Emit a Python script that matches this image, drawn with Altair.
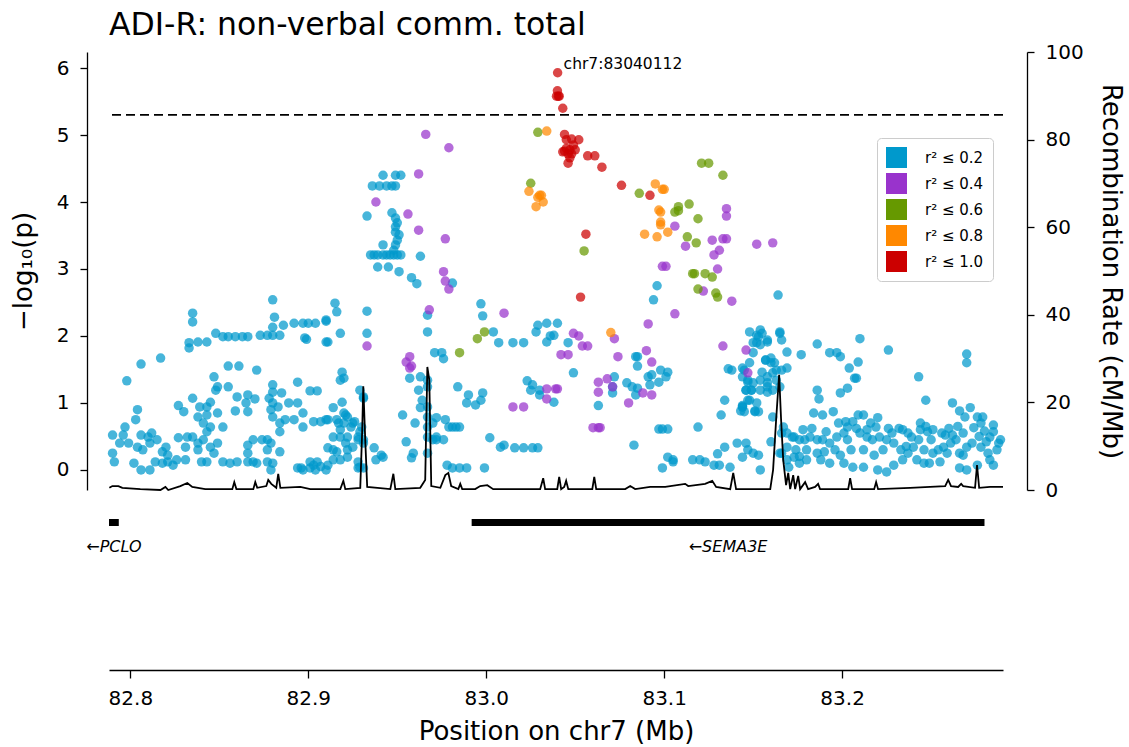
import altair as alt
import pandas as pd

TITLE = "ADI-R: non-verbal comm. total"
LD_BINS = ["r² ≤ 0.2", "r² ≤ 0.4", "r² ≤ 0.6", "r² ≤ 0.8", "r² ≤ 1.0"]
LD_COLORS = ["#0099CC", "#9933CC", "#669900", "#FF8800", "#CC0000"]

# (position Mb, -log10 p) per LD bin
BLUE = [
    (82.942,4.40),(82.949,4.40),(82.952,4.40),(82.936,4.24),(82.940,4.24),(82.944,4.24),(82.947,4.24),(82.949,4.24),
    (82.933,3.79),(82.947,3.84),(82.949,3.76),(82.950,3.69),(82.949,3.63),(82.949,3.55),(82.951,3.51),(82.950,3.43),
    (82.949,3.36),(82.948,3.28),(82.935,3.21),(82.937,3.21),(82.939,3.21),(82.942,3.21),(82.944,3.21),(82.946,3.21),
    (82.948,3.21),(82.950,3.21),(82.952,3.21),(82.942,3.36),(82.963,3.19),(82.939,3.03),(82.945,3.03),(82.951,2.96),
    (82.958,2.87),(82.961,2.78),(82.981,2.79),(82.997,2.48),(82.998,2.30),
    (82.915,2.49),(82.916,2.36),(82.910,2.24),(82.918,2.04),(82.911,1.91),(82.933,2.37),(82.933,2.04),
    (82.967,2.31),(82.967,2.06),(83.004,2.06),(83.007,1.90),(83.015,1.90),(83.021,1.90),
    (82.971,1.75),(82.975,1.75),(82.976,1.66),(83.029,2.16),(83.034,2.19),(83.028,2.06),(83.034,1.91),
    (83.023,1.33),(83.026,1.27),(83.025,1.19),(83.030,1.12),(82.998,1.15),(82.997,1.04),(82.994,0.97),
    (82.984,1.24),(82.990,1.12),(82.989,1.00),(82.981,0.64),(82.985,0.64),(82.979,0.64),(82.983,0.64),
    (83.002,0.48),(83.008,0.34),(83.010,0.37),(83.016,0.33),(83.021,0.33),(83.026,0.33),(83.029,0.33),
    (82.978,0.07),(82.981,0.03),(82.985,0.03),(82.989,0.03),(82.999,0.03),
    (82.953,0.82),(82.960,0.70),(82.963,0.93),(82.955,0.42),(82.959,0.25),(82.958,0.18),(82.967,0.25),
    (82.957,1.37),(82.963,1.39),(82.967,1.34),(82.967,1.24),(82.962,1.19),(82.964,1.04),(82.967,0.94),
    (82.967,0.79),(82.970,0.70),(82.967,0.64),(82.967,0.49),(82.970,0.45),(82.972,0.45),
    (82.972,0.78),(82.977,0.75),(82.972,0.49),(82.976,0.45),
    (82.880,2.54),(82.835,2.34),(82.835,2.21),(82.881,2.28),(82.886,2.16),(82.880,2.13),
    (82.892,2.19),(82.897,2.19),(82.900,2.19),(82.904,2.19),(82.910,2.22),
    (82.833,1.90),(82.833,1.82),(82.838,1.91),(82.843,1.91),(82.848,2.04),(82.852,1.99),(82.855,1.99),
    (82.859,1.99),(82.863,1.99),(82.866,1.99),(82.873,2.01),(82.877,2.01),(82.880,2.01),(82.884,2.01),
    (82.898,1.97),(82.899,1.95),(82.910,1.91),(82.806,1.58),(82.817,1.67),(82.798,1.33),
    (82.855,1.55),(82.861,1.55),(82.871,1.49),(82.847,1.39),(82.849,1.24),(82.855,1.24),(82.848,1.19),
    (82.860,1.09),(82.866,1.12),(82.870,1.06),(82.865,1.00),(82.866,0.87),(82.859,0.88),
    (82.894,1.31),(82.901,1.18),(82.905,1.18),(82.880,1.27),(82.880,1.16),(82.885,1.15),(82.878,1.07),
    (82.880,1.00),(82.883,0.94),(82.879,0.90),(82.880,0.79),(82.889,1.00),(82.894,1.00),(82.897,0.85),
    (82.887,0.75),(82.892,0.75),(82.903,0.72),(82.907,0.72),(82.897,0.64),(82.884,0.57),(82.884,0.70),
    (82.827,0.96),(82.830,0.87),(82.835,1.07),(82.839,0.94),(82.843,0.94),(82.845,1.01),
    (82.838,0.79),(82.843,0.82),(82.841,0.70),(82.845,0.64),(82.843,0.57),(82.849,0.85),(82.852,0.64),
    (82.804,0.90),(82.803,0.75),(82.797,0.64),(82.796,0.52),(82.790,0.52),(82.794,0.40),(82.790,0.25),
    (82.791,0.12),(82.799,0.40),(82.806,0.52),(82.810,0.49),(82.812,0.55),(82.811,0.40),(82.815,0.45),
    (82.804,0.34),(82.807,0.30),(82.802,0.10),(82.806,0.00),(82.811,0.00),(82.814,0.12),(82.818,0.10),
    (82.821,0.12),(82.820,0.34),(82.818,0.27),(82.821,0.22),(82.824,0.07),(82.826,0.15),(82.831,0.15),
    (82.831,0.34),(82.832,0.49),(82.827,0.48),(82.835,0.49),(82.838,0.40),(82.841,0.45),(82.838,0.30),
    (82.845,0.34),(82.849,0.40),(82.847,0.25),(82.840,0.12),(82.843,0.12),(82.852,0.12),(82.856,0.10),
    (82.860,0.12),(82.866,0.12),(82.869,0.12),(82.871,0.10),(82.866,0.25),(82.866,0.37),(82.869,0.45),
    (82.874,0.45),(82.877,0.45),(82.879,0.40),(82.877,0.30),(82.884,0.27),(82.880,0.10),(82.896,0.03),
    (82.901,0.03),(82.905,0.12),(82.907,0.05),(82.910,0.00),
    (82.919,1.46),(82.920,1.37),(82.918,1.34),(82.919,1.01),(82.914,0.93),(82.920,0.85),(82.922,0.79),
    (82.911,0.75),(82.916,0.75),(82.920,0.70),(82.924,0.64),(82.926,0.72),(82.930,0.64),(82.931,1.09),
    (82.929,0.57),(82.928,0.49),(82.931,0.45),(82.922,0.49),(82.918,0.49),(82.914,0.49),(82.921,0.40),
    (82.925,0.34),(82.911,0.33),(82.916,0.27),(82.914,0.15),(82.922,0.19),(82.928,0.12),(82.931,0.03),
    (82.928,0.03),(82.937,0.33),(82.942,0.19),(82.938,0.15),(82.901,0.12),(82.903,0.07),(82.911,0.07),
    (82.904,0.00),(82.894,0.03),(82.897,0.00),(82.877,0.12),(82.879,0.00),
    (82.929,1.19),(82.931,1.07),(82.921,0.82),(82.917,0.70),(82.925,0.70),(82.910,0.75),(82.918,0.60),
    (82.928,0.45),(82.931,0.40),(82.922,0.30),(82.914,0.30),(82.918,0.15),(82.929,0.04),(82.941,0.22),
    (83.096,2.75),(83.094,2.54),(83.040,2.19),(83.038,2.01),(83.046,1.90),(83.049,1.45),(83.038,1.01),
    (83.030,1.19),(83.036,2.00),(83.063,0.96),(83.072,1.39),(83.071,1.24),(83.071,1.15),
    (83.085,1.69),(83.085,1.55),(83.084,1.69),(83.079,1.30),(83.082,1.24),(83.085,1.22),(83.084,1.12),
    (83.091,1.39),(83.093,1.42),(83.098,1.49),(83.102,1.46),(83.101,1.39),(83.097,1.31),(83.092,1.27),
    (83.097,0.61),(83.099,0.61),(83.102,0.61),(83.083,0.37),(83.119,0.64),
    (83.102,0.19),(83.105,0.12),(83.099,0.03),(83.105,0.15),(83.116,0.15),(83.120,0.15),(83.123,0.12),
    (83.128,0.07),(83.131,0.07),(83.130,0.24),(83.137,0.04),(83.134,0.34),(83.141,0.40),(83.146,0.40),
    (83.147,0.30),(83.150,0.25),(83.153,0.22),(83.144,0.19),(83.154,0.00),
    (83.132,0.82),(83.134,1.04),(83.143,0.88),(83.144,0.96),(83.151,0.88),(83.136,1.51),
    (83.148,2.06),(83.152,2.01),(83.154,2.09),(83.150,1.90),(83.154,1.87),(83.158,1.91),(83.157,1.64),
    (83.160,1.60),(83.155,1.46),(83.158,1.39),(83.147,1.34),(83.150,1.30),(83.146,1.19),(83.149,1.19),
    (83.154,1.19),(83.158,1.24),(83.144,1.52),(83.144,1.39),(83.144,0.94),(83.151,0.87),(83.147,1.04),
    (83.138,1.49),(83.145,1.49),(83.153,1.99),(83.155,2.04),(83.152,1.90),(83.150,1.75),(83.158,1.94),
    (83.165,2.04),(83.166,1.94),(83.165,2.06),(83.148,1.60),(83.157,1.64),(83.160,1.67),(83.162,1.60),
    (83.163,1.49),(83.161,1.45),(83.154,1.34),(83.158,1.30),(83.163,1.34),(83.166,1.49),(83.169,1.52),
    (83.165,1.24),(83.158,1.16),(83.161,1.19),(83.147,1.31),(83.149,1.19),(83.146,1.19),(83.148,1.04),
    (83.152,1.00),(83.145,0.87),(83.144,0.94),(83.153,0.87),
    (83.161,0.79),(83.167,0.64),(83.166,0.55),(83.169,0.34),(83.166,0.25),(83.169,0.15),(83.170,0.04),
    (83.172,0.49),(83.174,0.30),(83.176,0.10),(83.179,0.45),
    (83.164,2.61),(83.186,1.88),(83.177,1.72),(83.169,1.76),
    (83.210,1.96),(83.226,1.79),(83.193,1.75),(83.197,1.75),(83.199,1.69),(83.209,1.61),(83.204,1.52),
    (83.207,1.37),(83.208,1.37),(83.203,1.22),(83.199,1.15),(83.186,1.19),(83.187,1.06),
    (83.243,1.39),(83.247,1.04),(83.270,1.73),(83.270,1.60),(83.262,1.00),(83.266,0.88),(83.272,0.93),
    (83.269,0.79),(83.276,0.79),(83.279,0.79),(83.184,0.85),(83.189,0.82),(83.195,0.87),
    (83.198,0.70),(83.202,0.72),(83.206,0.72),(83.209,0.82),(83.212,0.82),(83.216,0.70),(83.220,0.78),
    (83.219,0.64),(83.234,0.60),(83.237,0.55),(83.244,0.70),(83.244,0.60),(83.248,0.57),(83.251,0.60),
    (83.256,0.55),(83.262,0.52),(83.268,0.55),(83.274,0.63),(83.278,0.70),(83.285,0.67),(83.285,0.57),
    (83.283,0.49),(83.288,0.40),
    (83.169,0.55),(83.173,0.49),(83.176,0.45),(83.182,0.49),(83.186,0.45),(83.189,0.45),(83.193,0.40),
    (83.197,0.49),(83.201,0.55),(83.203,0.64),(83.210,0.55),(83.214,0.49),(83.217,0.45),(83.221,0.49),
    (83.225,0.45),(83.229,0.40),(83.233,0.30),(83.237,0.25),(83.240,0.34),(83.246,0.30),(83.251,0.25),
    (83.257,0.34),(83.261,0.40),(83.266,0.25),(83.270,0.34),(83.278,0.34),(83.282,0.25),
    (83.160,0.42),(83.165,0.25),(83.173,0.19),(83.180,0.15),(83.188,0.15),(83.193,0.10),(83.201,0.10),
    (83.206,0.04),(83.212,0.04),(83.220,0.00),(83.225,-0.03),(83.229,0.07),(83.234,0.15),(83.242,0.15),
    (83.246,0.10),(83.249,0.10),(83.255,0.12),(83.259,0.25),(83.266,0.03),(83.270,0.00),(83.276,0.07),
    (83.283,0.15),(83.285,0.07),
    (83.178,0.60),(83.183,0.62),(83.191,0.57),(83.196,0.30),(83.205,0.30),(83.212,0.30),(83.218,0.22),
    (83.223,0.30),(83.228,0.55),(83.232,0.62),(83.239,0.49),(83.243,0.45),(83.250,0.45),(83.254,0.30),
    (83.258,0.52),(83.264,0.45),(83.268,0.22),(83.273,0.40),(83.277,0.50),(83.281,0.42),(83.287,0.30),
    (83.180,0.30),(83.186,0.25),(83.190,0.27),(83.176,0.20),(83.199,0.22),(83.203,0.45),(83.208,0.62),
    (83.214,0.60),(83.226,0.62),(83.236,0.35),(83.247,0.65),(83.260,0.62),(83.265,0.65),(83.280,0.58),
    (83.289,0.45),
]
PURPLE = [
    (82.966,5.01),(82.979,4.81),(82.962,4.42),(82.938,4.00),(82.956,3.82),(82.962,3.58),(82.977,3.45),
    (82.976,2.96),(82.977,2.82),(82.979,2.70),(82.968,2.39),(83.010,2.34),(82.933,1.85),(82.957,1.69),
    (82.955,1.61),(82.958,1.55),(82.957,1.52),(83.034,1.21),(83.034,1.06),(83.015,0.94),(83.021,0.94),
    (83.049,2.04),(83.052,2.00),(83.054,1.85),(83.057,1.85),(83.042,1.72),(83.046,1.72),(83.072,1.96),
    (83.074,1.69),(83.091,2.18),(83.106,2.33),(83.090,1.78),(83.093,1.61),(83.122,2.67),(83.138,2.52),
    (83.133,1.85),(83.146,1.79),(83.147,1.45),(83.039,1.21),(83.040,1.21),(83.063,1.31),(83.068,1.36),
    (83.071,1.24),(83.063,1.16),(83.080,1.00),(83.088,1.15),(83.093,1.12),(83.060,0.63),(83.063,0.63),
    (83.064,0.63),(83.135,3.90),(83.135,3.79),(83.106,3.64),(83.127,3.43),(83.133,3.45),(83.135,3.45),
    (83.112,3.34),(83.128,3.21),(83.131,3.28),(83.152,3.37),(83.161,3.39),(83.099,3.04),(83.101,3.04),
    (83.130,3.00),
]
GREEN = [
    (83.029,5.04),(83.025,4.28),(83.086,4.13),(83.121,4.58),(83.125,4.58),(83.133,4.40),(83.106,3.85),
    (83.108,3.87),(83.108,3.93),(83.114,3.97),(83.119,3.75),(83.055,3.27),(83.113,3.48),(83.118,3.39),
    (83.116,2.93),(83.117,2.93),(83.123,2.93),(83.127,2.88),(83.119,2.70),(83.129,2.64),(83.130,2.58),
    (82.995,1.96),(82.999,2.06),(82.985,1.75),
]
ORANGE = [
    (83.034,5.06),(83.024,4.16),(83.029,4.07),(83.031,4.10),(83.028,3.93),(83.032,4.00),(83.030,4.10),
    (83.095,4.27),(83.099,4.19),(83.100,4.19),(83.097,3.88),(83.098,3.85),(83.098,3.70),(83.098,3.66),
    (83.102,3.55),(83.089,3.52),(83.096,3.48),(83.070,2.05),
]
RED = [
    (83.040,5.66),(83.0395,5.58),(83.0405,5.58),(83.041,5.58),(83.043,5.40),(83.044,5.01),(83.045,4.93),
    (83.048,4.94),(83.052,4.93),(83.043,4.75),(83.047,4.78),(83.050,4.78),(83.044,4.76),(83.046,4.72),
    (83.047,4.66),(83.046,4.58),(83.045,4.80),(83.048,4.72),(83.049,4.85),(83.057,4.69),(83.061,4.69),
    (83.065,4.52),(83.076,4.25),(83.092,4.10),(83.056,3.52),(83.053,2.58),(83.040112,5.93),
]
LEAD_LABEL = "chr7:83040112"
LEAD_POS = 83.040112
LEAD_LOGP = 5.93
SIG_LOGP = 5.30

RECOMB_POS = [
    82.7882,82.7899,82.7933,82.7955,82.8056,82.8169,82.8197,82.8213,82.8281,82.8320,82.8348,82.8421,
    82.8573,82.8584,82.8596,82.8691,82.8702,82.8713,82.8764,82.8775,82.8792,82.8820,82.8831,82.8843,
    82.8955,82.9011,82.9180,82.9197,82.9208,82.9292,82.9303,82.9309,82.9320,82.9331,82.9461,82.9478,
    82.9489,82.9629,82.9657,82.9669,82.9680,82.9691,82.9742,82.9770,82.9787,82.9803,82.9843,82.9854,
    82.9865,82.9938,82.9966,83.0006,83.0039,83.0303,83.0320,83.0331,83.0399,83.0410,83.0421,83.0438,
    83.0449,83.0461,83.0596,83.0607,83.0618,83.0781,83.0809,83.0837,83.0921,83.1006,83.1118,83.1135,
    83.1230,83.1270,83.1292,83.1371,83.1388,83.1404,83.1596,83.1612,83.1629,83.1646,83.1657,83.1669,
    83.1685,83.1697,83.1708,83.1725,83.1736,83.1753,83.1764,83.1792,83.1809,83.1848,83.1865,83.1876,
    83.2034,83.2045,83.2056,83.2180,83.2191,83.2202,83.2382,83.2494,83.2579,83.2596,83.2612,83.2652,
    83.2669,83.2680,83.2747,83.2758,83.2770,83.2831,83.2904,
]
RECOMB_RATE = [
    0.5,0.9,0.9,0.5,0.2,0.0,0.7,0.0,0.9,1.6,0.7,0.2,
    0.2,1.8,0.2,0.2,1.8,0.5,0.9,2.3,1.4,0.5,3.7,0.5,
    0.7,0.2,0.2,2.1,0.2,0.5,13.7,23.7,11.4,0.7,0.2,3.7,
    0.2,0.5,2.3,28.1,25.1,0.9,0.5,3.4,3.9,0.9,0.2,1.4,
    0.2,0.2,0.9,1.1,0.2,0.2,2.7,0.2,0.2,3.0,0.2,0.7,
    2.1,0.2,0.2,3.0,0.2,0.2,0.9,0.2,0.7,0.7,1.4,0.9,
    1.4,2.1,0.7,0.2,3.9,0.2,0.2,4.6,16.0,26.3,16.0,6.8,
    1.1,3.9,0.2,3.4,0.2,3.2,0.2,1.8,0.2,0.7,1.4,0.2,
    0.2,2.7,0.2,0.2,1.8,0.2,0.5,0.7,0.9,2.3,0.9,0.7,
    1.4,0.9,0.5,5.7,0.5,0.7,0.7,
]

GENES = ["PCLO", "SEMA3E"]
GENE_START = [82.3834, 82.9918]
GENE_END = [82.7935, 83.2800]

X_DOMAIN = [82.788, 83.2904]
X_TICKS = [82.8, 82.9, 83.0, 83.1, 83.2]
Y_DOMAIN = [-0.30, 6.24]

FONT = "DejaVu Sans"
TICK_FS = 20
AXTITLE_FS = 26
TITLE_FS = 31.5

rows = []
for rank, (name, pts) in enumerate(zip(LD_BINS, [BLUE, PURPLE, GREEN, ORANGE, RED])):
    for p, lp in pts:
        rows.append({"pos": p, "logp": lp, "ld": name, "rank": rank})
snps = pd.DataFrame(rows)
recomb = pd.DataFrame({"pos": RECOMB_POS, "rate": RECOMB_RATE})
genes = pd.DataFrame({"gene": GENES, "start": GENE_START, "end": GENE_END})
genes["label"] = "←" + genes["gene"]
genes["vis_start"] = genes["start"].clip(lower=X_DOMAIN[0])
genes["mid"] = (genes["vis_start"] + genes["end"]) / 2
lead = pd.DataFrame({"pos": [LEAD_POS], "logp": [LEAD_LOGP], "label": [LEAD_LABEL]})
sig = pd.DataFrame({"logp": [SIG_LOGP]})


def xs():
    return alt.Scale(domain=X_DOMAIN, nice=False, zero=False)


def ys():
    return alt.Scale(domain=Y_DOMAIN, nice=False, zero=False)


axis_style = dict(
    grid=False, labelFontSize=TICK_FS, titleFontSize=AXTITLE_FS, titleFontWeight="normal",
    domainColor="black", tickColor="black", labelColor="black", titleColor="black",
    domainWidth=1.3, tickWidth=1.3,
)

left_axis = alt.Axis(
    title="−log₁₀(p)", orient="left", offset=22, values=list(range(7)),
    tickSize=7, labelPadding=11, titlePadding=20, **axis_style,
)

points = alt.Chart(snps).mark_circle(size=90, opacity=0.72, strokeWidth=0).encode(
    x=alt.X("pos:Q", scale=xs(), axis=None),
    y=alt.Y("logp:Q", scale=ys(), axis=left_axis),
    color=alt.Color(
        "ld:N",
        scale=alt.Scale(domain=LD_BINS, range=LD_COLORS),
        legend=alt.Legend(
            title=None, orient="none", legendX=768, legendY=86,
            symbolType="square", symbolSize=440, symbolOpacity=1, symbolStrokeWidth=0,
            labelFontSize=15, labelFont=FONT, labelOffset=18, rowPadding=5,
            padding=9, strokeColor="#cccccc", fillColor="white", cornerRadius=4,
        ),
    ),
    order=alt.Order("rank:Q"),
)

rule = alt.Chart(sig).mark_rule(color="black", strokeDash=[9, 5], strokeWidth=1.8).encode(
    y=alt.Y("logp:Q", scale=ys(), axis=None)
)

lead_text = alt.Chart(lead).mark_text(
    align="left", baseline="middle", dx=6, dy=-9, fontSize=15.5, font=FONT, color="black"
).encode(
    x=alt.X("pos:Q", scale=xs(), axis=None),
    y=alt.Y("logp:Q", scale=ys(), axis=None),
    text="label:N",
)

recomb_line = alt.Chart(recomb).mark_line(color="black", strokeWidth=1.8).encode(
    x=alt.X("pos:Q", scale=xs(), axis=None),
    y=alt.Y(
        "rate:Q",
        scale=alt.Scale(domain=[0, 100], nice=False),
        axis=alt.Axis(
            title="Recombination Rate (cM/Mb)", orient="right", offset=24,
            values=[0, 20, 40, 60, 80, 100], tickSize=7, labelPadding=11, titlePadding=14,
            **axis_style,
        ),
    ),
)

top = alt.layer(points, rule, lead_text, recomb_line).resolve_scale(y="independent").properties(
    width=894, height=438,
    title=alt.TitleParams(TITLE, anchor="start", frame="group", fontSize=TITLE_FS,
                          fontWeight="normal", font=FONT, color="black", offset=1),
)

gene_bars = alt.Chart(genes).mark_rect(color="black").encode(
    x=alt.X("vis_start:Q", scale=xs(), axis=alt.Axis(
        title="Position on chr7 (Mb)", values=X_TICKS, format=".1f",
        tickSize=8, labelPadding=10, titlePadding=10, **axis_style,
    )),
    x2="end:Q",
    y=alt.value(19),
    y2=alt.value(26),
)
gene_labels = alt.Chart(genes).mark_text(
    fontSize=16, font=FONT, fontStyle="italic", color="black", baseline="middle"
).encode(x=alt.X("mid:Q", scale=xs()), y=alt.value(47), text="label:N")

bottom = alt.layer(gene_bars, gene_labels).properties(width=894, height=170)

chart = alt.vconcat(top, bottom, spacing=0).properties(
    padding={"left": 10, "top": 9, "right": 2, "bottom": 1}
).configure(font=FONT).configure_view(stroke=None)

chart.save("out.html", embed_options={"renderer": "svg", "actions": False})
